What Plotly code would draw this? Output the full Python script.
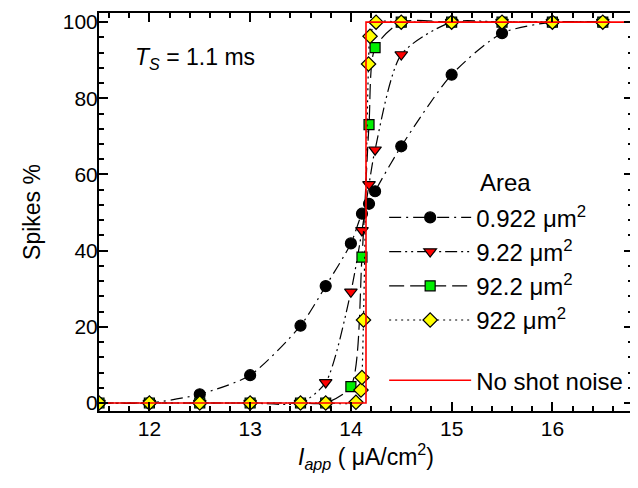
import plotly.graph_objects as go

# ---- data ----
circ_x = [11.5, 12, 12.5, 13, 13.5, 13.75, 14, 14.11, 14.18, 14.24, 14.5, 15, 15.5, 16, 16.5]
circ_y = [0, 0, 2.3, 7.3, 20.3, 30.7, 41.9, 49.7, 52.3, 55.6, 67.4, 86.2, 97.1, 100, 100]

tri_x = [11.5, 12, 12.5, 13, 13.5, 13.75, 14, 14.11, 14.18, 14.24, 14.5, 15, 15.5, 16, 16.5]
tri_y = [0, 0, 0, 0, 0, 5.4, 29.2, 45.3, 57.4, 66.5, 91.5, 100, 100, 100, 100]

sq_x = [11.5, 12, 12.5, 13, 13.5, 13.75, 14, 14.11, 14.18, 14.24, 14.5, 15, 15.5, 16, 16.5]
sq_y = [0, 0, 0, 0, 0, 0, 4.3, 38.3, 73.1, 93.3, 100, 100, 100, 100, 100]

dia_x = [11.5, 12, 12.5, 13, 13.5, 13.75, 14.05, 14.1, 14.11, 14.125, 14.175, 14.19, 14.25, 14.5, 15, 15.5, 16, 16.5]
dia_y = [0, 0, 0, 0, 0, 0, 0.2, 3.4, 6.7, 21.8, 89, 96.3, 100, 100, 100, 100, 100, 100]

step_x = [11.5, 14.15, 14.15, 16.8]
step_y = [0, 0, 100, 100]

names = ["0.922 μm<sup>2</sup>", "9.22 μm<sup>2</sup>", "92.2 μm<sup>2</sup>", "922 μm<sup>2</sup>"]

FONT = "Arial, Liberation Sans, sans-serif"

fig = go.Figure()

series = [
    (circ_x, circ_y, names[0], "circle", "black", 11, "12px,5px,2px,5px"),
    (tri_x, tri_y, names[1], "triangle-down", "#ff0000", 11, "12px,4px,2px,4px,2px,4px"),
    (sq_x, sq_y, names[2], "square", "#00ee00", 10, "15px,6px"),
    (dia_x, dia_y, names[3], "diamond", "#ffff00", 11, "2px,4px"),
]
for x, y, nm, sym, col, sz, dash in series:
    fig.add_trace(go.Scatter(
        x=x, y=y, name=nm, mode="lines+markers",
        line=dict(color="black", width=1.2, dash=dash, shape="spline", smoothing=0.7),
        marker=dict(symbol=sym, color=col, size=sz, line=dict(color="black", width=1.2)),
        legendgroup="a",
    ))

fig.add_trace(go.Scatter(
    x=step_x, y=step_y, name="No shot noise", mode="lines",
    line=dict(color="#ff0000", width=1.6), legendgroup="b",
))

axis_common = dict(
    showline=True, linecolor="black", linewidth=2, mirror="ticks",
    ticks="inside", ticklen=9, tickwidth=1.5, tickcolor="black",
    showgrid=False, zeroline=False,
    tickfont=dict(family=FONT, size=21, color="black"),
)

fig.update_xaxes(
    range=[11.5, 16.8], tick0=12, dtick=1, ticklabelstandoff=-2,
    minor=dict(dtick=0.2, ticks="inside", ticklen=5, tickwidth=1.5, tickcolor="black"),
    title=dict(text="<i>I</i><sub><i>app</i></sub> ( μA/cm<sup>2</sup>)",
               font=dict(family=FONT, size=23, color="black"), standoff=8),
    **axis_common,
)
fig.update_yaxes(
    range=[-2.1, 102.4], tick0=0, dtick=20, ticklabelstandoff=-5,
    minor=dict(dtick=4, ticks="inside", ticklen=5, tickwidth=1.5, tickcolor="black"),
    title=dict(text="Spikes %", font=dict(family=FONT, size=23, color="black"), standoff=16),
    **axis_common,
)

fig.add_annotation(
    xref="paper", yref="paper", x=0.063, y=0.885, xanchor="left", yanchor="middle",
    text="<i>T</i><sub><i>S</i></sub> = 1.1 ms", showarrow=False,
    font=dict(family=FONT, size=23, color="black"),
)
fig.add_annotation(
    xref="paper", yref="paper", x=0.71, y=0.575, xanchor="left", yanchor="middle",
    text="Area", showarrow=False,
    font=dict(family=FONT, size=24, color="black"),
)

fig.update_layout(
    width=638, height=488,
    margin=dict(l=91, r=13, t=3, b=85),
    plot_bgcolor="white", paper_bgcolor="white",
    showlegend=True,
    legend=dict(
        x=0.534, y=0.542, xanchor="left", yanchor="top",
        bgcolor="rgba(0,0,0,0)", font=dict(family=FONT, size=24, color="black"),
        tracegroupgap=26, itemwidth=82,
    ),
)

fig.write_html("out.html")
